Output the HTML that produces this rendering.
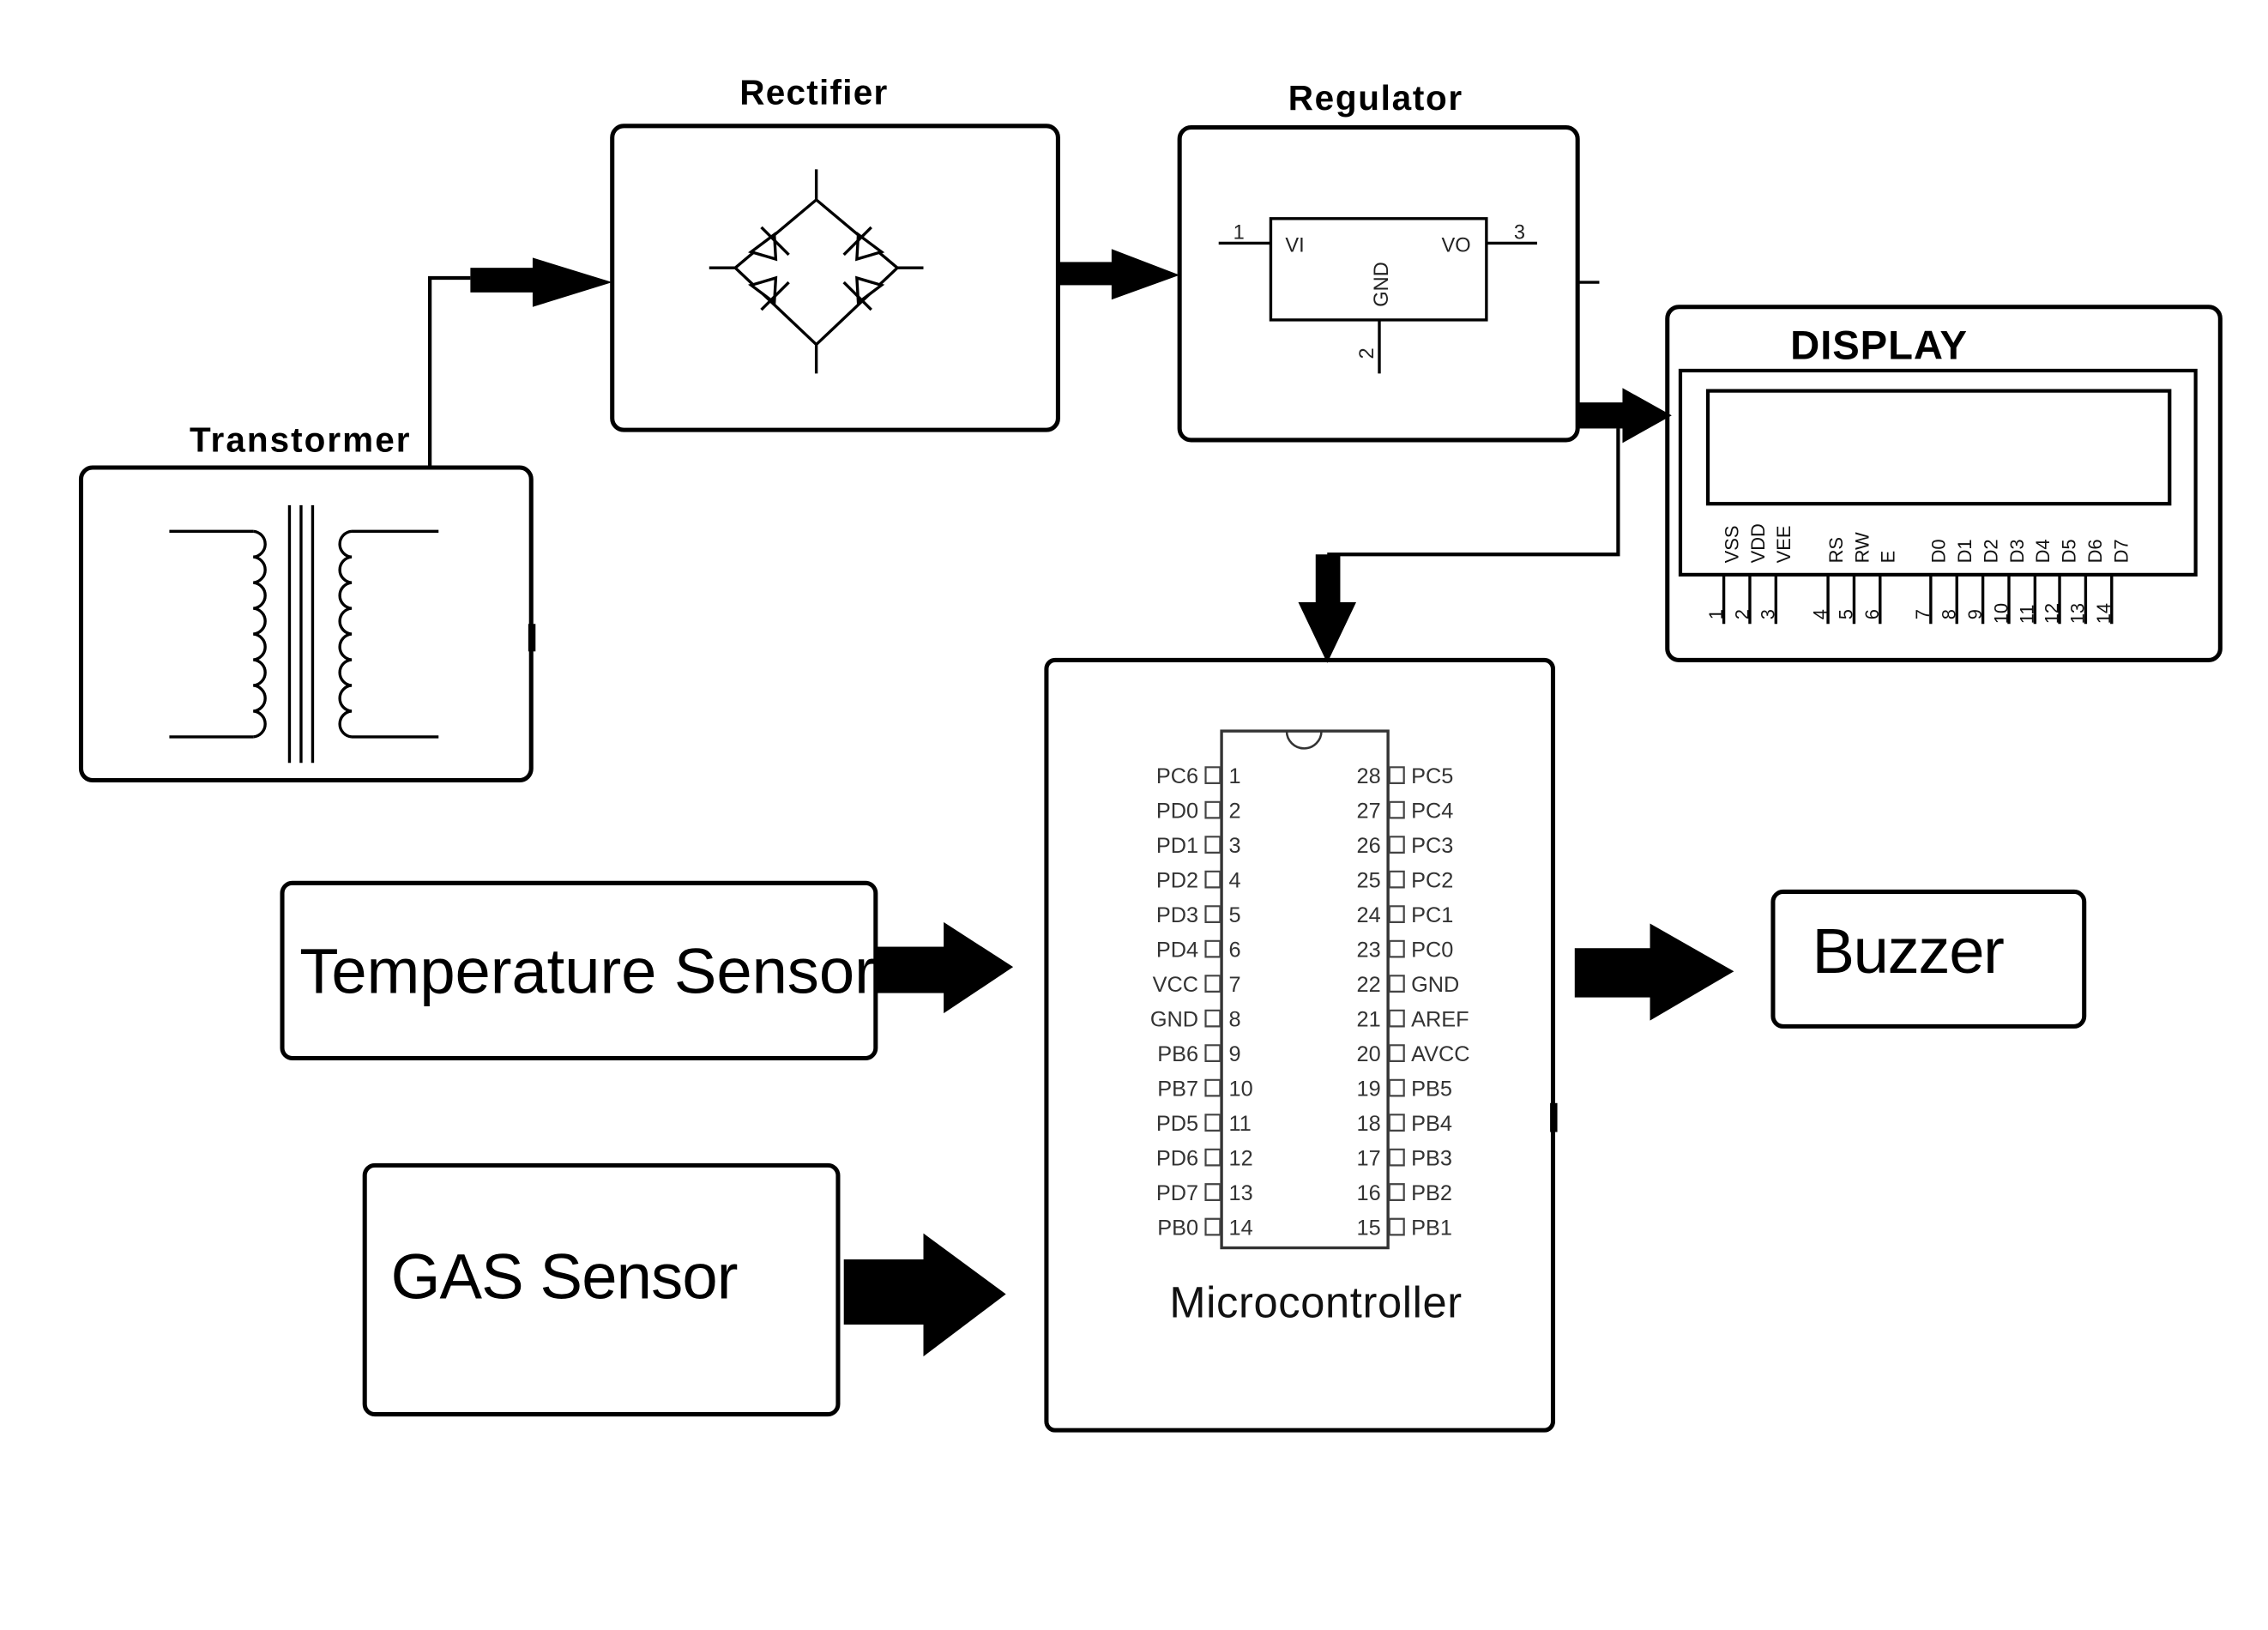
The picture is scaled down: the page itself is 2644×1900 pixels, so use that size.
<!DOCTYPE html>
<html><head><meta charset="utf-8"><style>
html,body{margin:0;padding:0;background:#fff;}
svg{display:block;}
text{font-family:"Liberation Sans",sans-serif;}
</style></head><body>
<svg width="2644" height="1900" viewBox="0 0 1567 1126" preserveAspectRatio="none" xmlns="http://www.w3.org/2000/svg">
<rect width="1567" height="1126" fill="#fff"/>
<g fill="none" stroke="#000" stroke-width="3">
<rect x="423" y="87" width="308" height="210" rx="8"/>
<rect x="56" y="323" width="311" height="216" rx="8"/>
<rect x="815" y="88" width="275" height="216" rx="8"/>
<rect x="1152" y="212" width="382" height="244" rx="8"/>
<rect x="723" y="456" width="350" height="532" rx="6"/>
<rect x="195" y="610" width="410" height="121" rx="7"/>
<rect x="252" y="805" width="327" height="172" rx="7"/>
<rect x="1225" y="616" width="215" height="93" rx="7"/>
</g>
<g font-weight="bold" fill="#000">
<text x="562" y="72" font-size="24" text-anchor="middle" textLength="102">Rectifier</text>
<text x="207" y="312" font-size="24" text-anchor="middle" textLength="152">Transtormer</text>
<text x="950" y="76" font-size="24" text-anchor="middle" textLength="120">Regulator</text>
<text x="1298" y="248" font-size="28" text-anchor="middle" textLength="122">DISPLAY</text>
</g>
<g fill="none" stroke="#000" stroke-width="2">
<path d="M117 367 H175 M117 509 H175"/>
<path d="M175 367 a8.9 8.9 0 0 1 0 17.75 a8.9 8.9 0 0 1 0 17.75 a8.9 8.9 0 0 1 0 17.75 a8.9 8.9 0 0 1 0 17.75 a8.9 8.9 0 0 1 0 17.75 a8.9 8.9 0 0 1 0 17.75 a8.9 8.9 0 0 1 0 17.75 a8.9 8.9 0 0 1 0 17.75"/>
<path d="M243 367 a8.9 8.9 0 0 0 0 17.75 a8.9 8.9 0 0 0 0 17.75 a8.9 8.9 0 0 0 0 17.75 a8.9 8.9 0 0 0 0 17.75 a8.9 8.9 0 0 0 0 17.75 a8.9 8.9 0 0 0 0 17.75 a8.9 8.9 0 0 0 0 17.75 a8.9 8.9 0 0 0 0 17.75"/>
<path d="M243 367 H303 M243 509 H303"/>
<path d="M200 349 V527 M208 349 V527 M216 349 V527"/>
</g>
<rect x="365" y="431" width="5" height="19" fill="#000"/>
<path d="M297 323 V192 H325" fill="none" stroke="#000" stroke-width="2.5"/>
<rect x="325" y="185" width="46" height="17" fill="#000"/>
<polygon points="368,178 423,195 368,212" fill="#000"/>
<g fill="none" stroke="#000" stroke-width="2">
<path d="M564 117 V138 M564 138 L508 185 L564 238 L620 185 L564 138 M564 238 V258 M490 185 H508 M620 185 H638"/>
<polygon points="519,174 535,162 536,179" fill="#fff"/>
<path d="M526 157 L545 176"/>
<polygon points="609,174 593,162 592,179" fill="#fff"/>
<path d="M602 157 L583 176"/>
<polygon points="519,197 535,209 536,192" fill="#fff"/>
<path d="M526 214 L545 195"/>
<polygon points="609,197 593,209 592,192" fill="#fff"/>
<path d="M602 214 L583 195"/>
</g>
<rect x="731" y="181" width="40" height="16" fill="#000"/>
<polygon points="768,172 815,190 768,207" fill="#000"/>
<g fill="none" stroke="#000" stroke-width="2">
<rect x="878" y="151" width="149" height="70"/>
<path d="M842 168 H878 M1027 168 H1062 M953 221 V258 M1090 195 H1105"/>
</g>
<g font-size="14" fill="#222">
<text x="852" y="165">1</text>
<text x="1046" y="165">3</text>
<text x="888" y="174">VI</text>
<text x="996" y="174">VO</text>
<text transform="translate(959,212) rotate(-90)">GND</text>
<text transform="translate(949,248) rotate(-90)">2</text>
</g>
<rect x="1090" y="278" width="34" height="18" fill="#000"/>
<polygon points="1121,268 1155,287 1121,306" fill="#000"/>
<path d="M1118 296 V383 H917" fill="none" stroke="#000" stroke-width="2.5"/>
<rect x="909" y="383" width="17" height="36" fill="#000"/>
<polygon points="897,416 937,416 917,458" fill="#000"/>
<g fill="none" stroke="#000" stroke-width="2.5">
<rect x="1161" y="256" width="356" height="141"/>
<rect x="1180" y="270" width="319" height="78"/>
</g>
<g stroke="#000" stroke-width="2">
<path d="M1191 397V431 M1209 397V431 M1227 397V431 M1263 397V431 M1281 397V431 M1299 397V431 M1334 397V431 M1352 397V431 M1370 397V431 M1388 397V431 M1406 397V431 M1423 397V431 M1441 397V431 M1459 397V431"/>
</g>
<g font-size="13" fill="#111">
<text transform="translate(1201,389) rotate(-90)">VSS</text>
<text transform="translate(1219,389) rotate(-90)">VDD</text>
<text transform="translate(1237,389) rotate(-90)">VEE</text>
<text transform="translate(1273,389) rotate(-90)">RS</text>
<text transform="translate(1291,389) rotate(-90)">RW</text>
<text transform="translate(1309,389) rotate(-90)">E</text>
<text transform="translate(1344,389) rotate(-90)">D0</text>
<text transform="translate(1362,389) rotate(-90)">D1</text>
<text transform="translate(1380,389) rotate(-90)">D2</text>
<text transform="translate(1398,389) rotate(-90)">D3</text>
<text transform="translate(1416,389) rotate(-90)">D4</text>
<text transform="translate(1434,389) rotate(-90)">D5</text>
<text transform="translate(1452,389) rotate(-90)">D6</text>
<text transform="translate(1470,389) rotate(-90)">D7</text>
<text transform="translate(1190,428) rotate(-90)">1</text>
<text transform="translate(1208,428) rotate(-90)">2</text>
<text transform="translate(1226,428) rotate(-90)">3</text>
<text transform="translate(1262,428) rotate(-90)">4</text>
<text transform="translate(1280,428) rotate(-90)">5</text>
<text transform="translate(1298,428) rotate(-90)">6</text>
<text transform="translate(1333,428) rotate(-90)">7</text>
<text transform="translate(1351,428) rotate(-90)">8</text>
<text transform="translate(1369,428) rotate(-90)">9</text>
<text transform="translate(1387,431) rotate(-90)">10</text>
<text transform="translate(1405,431) rotate(-90)">11</text>
<text transform="translate(1422,431) rotate(-90)">12</text>
<text transform="translate(1440,431) rotate(-90)">13</text>
<text transform="translate(1458,431) rotate(-90)">14</text>
</g>
<rect x="844" y="505" width="115" height="357" fill="none" stroke="#333" stroke-width="2"/>
<path d="M889 505 A12 12 0 0 0 913 505" fill="none" stroke="#333" stroke-width="1.5"/>
<rect x="1071" y="762" width="5" height="20" fill="#000"/>
<g font-size="15" fill="#333" stroke="none">
<g text-anchor="end">
<text x="828" y="541">PC6</text><text x="828" y="565">PD0</text><text x="828" y="589">PD1</text><text x="828" y="613">PD2</text><text x="828" y="637">PD3</text><text x="828" y="661">PD4</text><text x="828" y="685">VCC</text><text x="828" y="709">GND</text><text x="828" y="733">PB6</text><text x="828" y="757">PB7</text><text x="828" y="781">PD5</text><text x="828" y="805">PD6</text><text x="828" y="829">PD7</text><text x="828" y="853">PB0</text>
<text x="954" y="541">28</text><text x="954" y="565">27</text><text x="954" y="589">26</text><text x="954" y="613">25</text><text x="954" y="637">24</text><text x="954" y="661">23</text><text x="954" y="685">22</text><text x="954" y="709">21</text><text x="954" y="733">20</text><text x="954" y="757">19</text><text x="954" y="781">18</text><text x="954" y="805">17</text><text x="954" y="829">16</text><text x="954" y="853">15</text>
</g>
<text x="849" y="541">1</text><text x="849" y="565">2</text><text x="849" y="589">3</text><text x="849" y="613">4</text><text x="849" y="637">5</text><text x="849" y="661">6</text><text x="849" y="685">7</text><text x="849" y="709">8</text><text x="849" y="733">9</text><text x="849" y="757">10</text><text x="849" y="781">11</text><text x="849" y="805">12</text><text x="849" y="829">13</text><text x="849" y="853">14</text>
<text x="975" y="541">PC5</text><text x="975" y="565">PC4</text><text x="975" y="589">PC3</text><text x="975" y="613">PC2</text><text x="975" y="637">PC1</text><text x="975" y="661">PC0</text><text x="975" y="685">GND</text><text x="975" y="709">AREF</text><text x="975" y="733">AVCC</text><text x="975" y="757">PB5</text><text x="975" y="781">PB4</text><text x="975" y="805">PB3</text><text x="975" y="829">PB2</text><text x="975" y="853">PB1</text>
</g>
<g fill="none" stroke="#444" stroke-width="1.3">
<path d="M833 530h10v11h-10z M833 554h10v11h-10z M833 578h10v11h-10z M833 602h10v11h-10z M833 626h10v11h-10z M833 650h10v11h-10z M833 674h10v11h-10z M833 698h10v11h-10z M833 722h10v11h-10z M833 746h10v11h-10z M833 770h10v11h-10z M833 794h10v11h-10z M833 818h10v11h-10z M833 842h10v11h-10z"/>
<path d="M960 530h10v11h-10z M960 554h10v11h-10z M960 578h10v11h-10z M960 602h10v11h-10z M960 626h10v11h-10z M960 650h10v11h-10z M960 674h10v11h-10z M960 698h10v11h-10z M960 722h10v11h-10z M960 746h10v11h-10z M960 770h10v11h-10z M960 794h10v11h-10z M960 818h10v11h-10z M960 842h10v11h-10z"/>
</g>
<text x="909" y="910" font-size="30" text-anchor="middle" fill="#111" textLength="202">Microcontroller</text>
<text x="207" y="686" font-size="44" fill="#000" textLength="398">Temperature Sensor</text>
<rect x="605" y="654" width="50" height="32" fill="#000"/>
<polygon points="652,637 700,668 652,700" fill="#000"/>
<text x="270" y="897" font-size="44" fill="#000" textLength="240">GAS Sensor</text>
<rect x="583" y="870" width="58" height="45" fill="#000"/>
<polygon points="638,852 695,894 638,937" fill="#000"/>
<text x="1252" y="672" font-size="44" fill="#000" textLength="133">Buzzer</text>
<rect x="1088" y="655" width="55" height="34" fill="#000"/>
<polygon points="1140,638 1198,671 1140,705" fill="#000"/>
</svg>
</body></html>
